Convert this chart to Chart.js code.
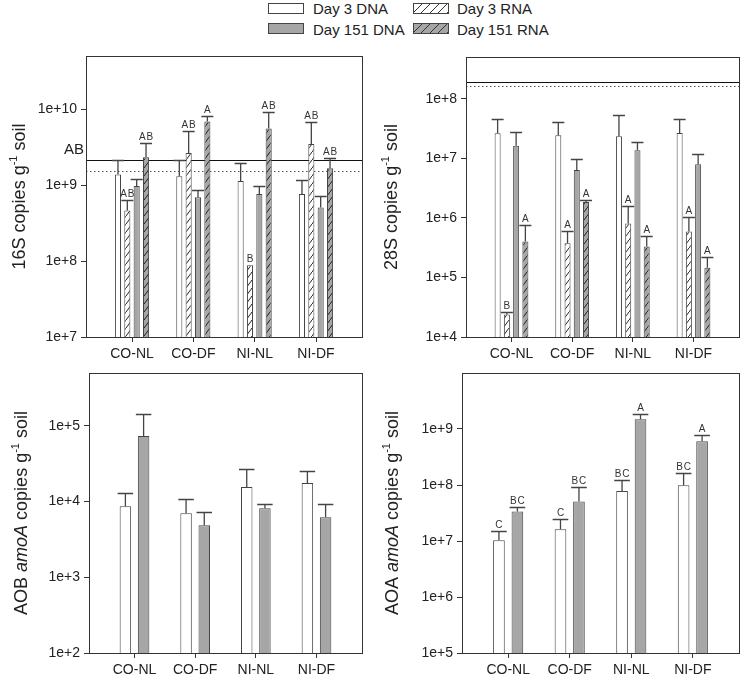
<!DOCTYPE html>
<html>
<head>
<meta charset="utf-8">
<script src="https://cdn.jsdelivr.net/npm/chart.js@4"></script>
<style>
  body { margin: 0; background: #fff; font-family: "Liberation Sans", Arial, sans-serif; }
  #wrap { position: relative; width: 742px; height: 682px; overflow: hidden; }
  canvas { position: absolute; }
  .sw { position: absolute; width: 34px; height: 9px; border: 1px solid #444; }
  .lt { position: absolute; font-size: 15px; color: #222; line-height: 15px; white-space: nowrap; }
</style>
</head>
<body>
<div id="wrap">
  <div class="sw" style="left:268px;top:3px;background:#fff"></div>
  <div class="lt" style="left:313px;top:1px">Day 3 DNA</div>
  <div class="sw" style="left:413px;top:3px;background:repeating-linear-gradient(135deg,#fff 0 5px,#333 5px 6px)"></div>
  <div class="lt" style="left:457px;top:1px">Day 3 RNA</div>
  <div class="sw" style="left:268px;top:23px;background:#a6a6a6"></div>
  <div class="lt" style="left:313px;top:22px">Day 151 DNA</div>
  <div class="sw" style="left:413px;top:23px;background:repeating-linear-gradient(135deg,#a6a6a6 0 5px,#333 5px 6px)"></div>
  <div class="lt" style="left:457px;top:22px">Day 151 RNA</div>

  <canvas id="c16" width="371" height="332" style="left:0;top:40px"></canvas>
  <canvas id="c28" width="371" height="332" style="left:371px;top:40px"></canvas>
  <canvas id="cAob" width="371" height="322" style="left:0;top:360px"></canvas>
  <canvas id="cAoa" width="371" height="322" style="left:371px;top:360px"></canvas>
</div>
<script>
const groups = ['CO-NL', 'CO-DF', 'NI-NL', 'NI-DF'];

// 16S (bar value, upper error value, letters)
const s16Day3Dna = [1.38e9, 1.31e9, 1.13e9, 7.6e8];
const s16Day3DnaHi = [2.15e9, 2.15e9, 1.96e9, 1.15e9];
const s16Day3Rna = [4.64e8, 2.64e9, 8.77e7, 3.46e9];
const s16Day3RnaHi = [6.3e8, 5.08e9, null, 6.69e9];
const s16Day3RnaSig = ['AB', 'AB', 'B', 'AB'];
const s16Day151Dna = [9.7e8, 6.9e8, 7.6e8, 5.08e8];
const s16Day151DnaHi = [1.2e9, 8.67e8, 9.8e8, 7.23e8];
const s16Day151Rna = [2.33e9, 6.89e9, 5.57e9, 1.67e9];
const s16Day151RnaHi = [3.57e9, 8.0e9, 9.14e9, 2.24e9];
const s16Day151RnaSig = ['AB', 'A', 'AB', 'AB'];
const s16RefSolid = 2.11e9;
const s16RefDotted = 1.54e9;
const s16RefSig = 'AB';
const s16Ticks = [1e7, 1e8, 1e9, 1e10];

// 28S
const s28Day3Dna = [2.62e7, 2.43e7, 2.33e7, 2.65e7];
const s28Day3DnaHi = [4.56e7, 4.1e7, 5.38e7, 4.61e7];
const s28Day3Rna = [2.38e4, 3.76e5, 8.05e5, 5.9e5];
const s28Day3RnaHi = [2.63e4, 5.97e5, 1.59e6, 1.04e6];
const s28Day3RnaSig = ['B', 'A', 'A', 'A'];
const s28Day151Dna = [1.62e7, 6.34e6, 1.36e7, 7.89e6];
const s28Day151DnaHi = [2.72e7, 9.7e6, 1.85e7, 1.16e7];
const s28Day151Rna = [4.0e5, 1.84e6, 3.3e5, 1.45e5];
const s28Day151RnaHi = [7.54e5, 1.96e6, 4.98e5, 2.16e5];
const s28Day151RnaSig = ['A', 'A', 'A', 'A'];
const s28RefSolid = 1.93e8;
const s28RefDotted = 1.63e8;
const s28Ticks = [1e4, 1e5, 1e6, 1e7, 1e8];

// AOB amoA
const aobDay3Dna = [8.67e3, 7.0e3, 1.56e4, 1.76e4];
const aobDay3DnaHi = [1.29e4, 1.07e4, 2.67e4, 2.56e4];
const aobDay151Dna = [7.36e4, 4.86e3, 8.15e3, 6.2e3];
const aobDay151DnaHi = [1.42e5, 7.36e3, 9.2e3, 9.3e3];
const aobTicks = [1e2, 1e3, 1e4, 1e5];

// AOA amoA
const aoaDay3Dna = [1.03e7, 1.62e7, 7.81e7, 9.9e7];
const aoaDay3DnaHi = [1.49e7, 2.47e7, 1.25e8, 1.62e8];
const aoaDay3DnaSig = ['C', 'C', 'BC', 'BC'];
const aoaDay151Dna = [3.35e7, 5.06e7, 1.49e9, 6.03e8];
const aoaDay151DnaHi = [4.05e7, 9.36e7, 1.88e9, 7.8e8];
const aoaDay151DnaSig = ['BC', 'BC', 'A', 'A'];
const aoaTicks = [1e5, 1e6, 1e7, 1e8, 1e9];

const FONT = '"Liberation Sans", Arial, sans-serif';
const GRAY = '#a6a6a6';
const EDGE = '#444';

function hatch(bg) {
  const c = document.createElement('canvas');
  c.width = 6; c.height = 8;
  const g = c.getContext('2d');
  g.fillStyle = bg;
  g.fillRect(0, 0, 6, 8);
  g.strokeStyle = '#222';
  g.lineWidth = 1;
  g.beginPath();
  g.moveTo(-1, 8 + 8 / 6);
  g.lineTo(7, -8 / 6);
  g.stroke();
  return g.createPattern(c, 'repeat');
}

function bar(label, data, fill, hi, sig) {
  return { label, data, backgroundColor: fill, borderColor: EDGE, borderWidth: 1, errHi: hi, sig: sig || [] };
}

// error bars (upper only) + letters above them
const errPlugin = {
  id: 'err',
  afterDatasetsDraw(chart) {
    const ctx = chart.ctx;
    const y = chart.scales.y;
    ctx.save();
    chart.data.datasets.forEach((ds, di) => {
      const meta = chart.getDatasetMeta(di);
      meta.data.forEach((el, i) => {
        let top = el.y;
        const hi = ds.errHi ? ds.errHi[i] : null;
        if (hi != null) {
          const py = Math.round(y.getPixelForValue(hi)) + 0.5;
          const cap = Math.max(el.width / 2 + 2, 6);
          ctx.strokeStyle = '#444';
          ctx.lineWidth = 1.3;
          ctx.beginPath();
          ctx.moveTo(el.x, el.y);
          ctx.lineTo(el.x, py);
          ctx.moveTo(el.x - cap, py);
          ctx.lineTo(el.x + cap, py);
          ctx.stroke();
          top = py;
        }
        const s = ds.sig[i];
        if (s) {
          ctx.fillStyle = '#333';
          ctx.font = '10px ' + FONT;
          ctx.textAlign = 'center';
          ctx.textBaseline = 'bottom';
          ctx.fillText(s.split('').join(String.fromCharCode(8202)), el.x, top - 1);
        }
      });
    });
    ctx.restore();
  }
};

// frame + reference lines
const framePlugin = {
  id: 'frame',
  beforeDatasetsDraw(chart, args, opts) {
    const { ctx, chartArea: a } = chart;
    const y = chart.scales.y;
    ctx.save();
    if (opts.solid) {
      const py = Math.round(y.getPixelForValue(opts.solid)) + 0.5;
      ctx.strokeStyle = '#111';
      ctx.lineWidth = 1;
      ctx.beginPath(); ctx.moveTo(a.left, py); ctx.lineTo(a.right, py); ctx.stroke();
      if (opts.sig) {
        ctx.fillStyle = '#222';
        ctx.font = '15px ' + FONT;
        ctx.textAlign = 'right';
        ctx.textBaseline = 'alphabetic';
        ctx.fillText(opts.sig, a.left - 2, py - 7);
      }
    }
    if (opts.dotted) {
      const py = Math.round(y.getPixelForValue(opts.dotted)) + 0.5;
      ctx.strokeStyle = '#555';
      ctx.setLineDash([1.5, 2.5]);
      ctx.beginPath(); ctx.moveTo(a.left, py); ctx.lineTo(a.right, py); ctx.stroke();
    }
    ctx.restore();
  },
  afterDraw(chart) {
    const { ctx, chartArea: a } = chart;
    ctx.save();
    ctx.strokeStyle = '#333';
    ctx.lineWidth = 1;
    ctx.strokeRect(Math.round(a.left) + 0.5, Math.round(a.top) + 0.5, Math.round(a.right - a.left), Math.round(a.bottom - a.top));
    ctx.restore();
  }
};

// rotated y title with italic / superscript parts
const titlePlugin = {
  id: 'ytitle',
  afterDraw(chart, args, opts) {
    if (!opts.parts) return;
    const ctx = chart.ctx;
    const size = 18;
    const fontFor = p => (p.italic ? 'italic ' : '') + (p.sup ? 11 : size) + 'px ' + FONT;
    ctx.save();
    let total = 0;
    opts.parts.forEach(p => { ctx.font = fontFor(p); total += ctx.measureText(p.t).width; });
    const cy = (chart.chartArea.top + chart.chartArea.bottom) / 2;
    ctx.translate(opts.x, cy);
    ctx.rotate(-Math.PI / 2);
    ctx.fillStyle = '#222';
    ctx.textBaseline = 'alphabetic';
    ctx.textAlign = 'left';
    let x = -total / 2;
    opts.parts.forEach(p => {
      ctx.font = fontFor(p);
      ctx.fillText(p.t, x, p.sup ? size * 0.35 - 8 : size * 0.35);
      x += ctx.measureText(p.t).width;
    });
    ctx.restore();
  }
};

function makeChart(id, datasets, cfg) {
  return new Chart(document.getElementById(id), {
    type: 'bar',
    data: { labels: groups, datasets },
    options: {
      responsive: false,
      animation: false,
      devicePixelRatio: 1,
      categoryPercentage: cfg.cat,
      barPercentage: cfg.barPct,
      layout: { padding: { top: cfg.top, right: cfg.right, left: 0, bottom: 0 } },
      plugins: {
        legend: { display: false },
        tooltip: { enabled: false },
        frame: { solid: cfg.solid, dotted: cfg.dotted, sig: cfg.refSig },
        ytitle: { parts: cfg.title, x: cfg.titleX }
      },
      scales: {
        x: {
          type: 'category',
          offset: true,
          grid: { offset: false, drawOnChartArea: false, tickLength: 5, color: '#333' },
          border: { color: '#333' },
          ticks: { color: '#222', font: { family: FONT, size: 14 }, padding: 4, maxRotation: 0 },
          afterBuildTicks: s => { s._startValue = -0.75; s._valueRange = 4.5; },
          afterFit: s => { s.height = cfg.xh; }
        },
        y: {
          type: 'logarithmic',
          min: cfg.min,
          max: cfg.max,
          afterBuildTicks: s => { s.ticks = cfg.ticks.map(v => ({ value: v })); },
          grid: { drawOnChartArea: false, tickLength: 5, color: '#333' },
          border: { color: '#333' },
          ticks: {
            autoSkip: false,
            color: '#222',
            font: { family: FONT, size: 14 },
            padding: 4,
            callback: v => '1e+' + Math.round(Math.log10(v))
          },
          afterFit: s => { s.width = cfg.yw; }
        }
      }
    },
    plugins: [framePlugin, errPlugin, titlePlugin]
  });
}

const hatchWhite = hatch('#fff');
const hatchGray = hatch(GRAY);
const copiesTail = [{ t: ' copies g' }, { t: '-1', sup: true }, { t: ' soil' }];

makeChart('c16', [
  bar('Day 3 DNA', s16Day3Dna, '#fff', s16Day3DnaHi),
  bar('Day 3 RNA', s16Day3Rna, hatchWhite, s16Day3RnaHi, s16Day3RnaSig),
  bar('Day 151 DNA', s16Day151Dna, GRAY, s16Day151DnaHi),
  bar('Day 151 RNA', s16Day151Rna, hatchGray, s16Day151RnaHi, s16Day151RnaSig)
], { min: 1e7, max: 5e10, ticks: s16Ticks, yw: 86, xh: 35, top: 16, right: 9, cat: 0.61, barPct: 0.65,
     solid: s16RefSolid, dotted: s16RefDotted, refSig: s16RefSig,
     title: [{ t: '16S' }].concat(copiesTail), titleX: 19 });

makeChart('c28', [
  bar('Day 3 DNA', s28Day3Dna, '#fff', s28Day3DnaHi),
  bar('Day 3 RNA', s28Day3Rna, hatchWhite, s28Day3RnaHi, s28Day3RnaSig),
  bar('Day 151 DNA', s28Day151Dna, GRAY, s28Day151DnaHi),
  bar('Day 151 RNA', s28Day151Rna, hatchGray, s28Day151RnaHi, s28Day151RnaSig)
], { min: 1e4, max: 5e8, ticks: s28Ticks, yw: 95, xh: 35, top: 17, right: 3, cat: 0.61, barPct: 0.65,
     solid: s28RefSolid, dotted: s28RefDotted,
     title: [{ t: '28S' }].concat(copiesTail), titleX: 20 });

makeChart('cAob', [
  bar('Day 3 DNA', aobDay3Dna, '#fff', aobDay3DnaHi),
  bar('Day 151 DNA', aobDay151Dna, GRAY, aobDay151DnaHi)
], { min: 1e2, max: 5e5, ticks: aobTicks, yw: 89, xh: 29, top: 13, right: 9, cat: 0.6, barPct: 0.63,
     title: [{ t: 'AOB ' }, { t: 'amoA', italic: true }].concat(copiesTail), titleX: 21 });

makeChart('cAoa', [
  bar('Day 3 DNA', aoaDay3Dna, '#fff', aoaDay3DnaHi, aoaDay3DnaSig),
  bar('Day 151 DNA', aoaDay151Dna, GRAY, aoaDay151DnaHi, aoaDay151DnaSig)
], { min: 1e5, max: 1e10, ticks: aoaTicks, yw: 91, xh: 29, top: 13, right: 3, cat: 0.6, barPct: 0.63,
     title: [{ t: 'AOA ' }, { t: 'amoA', italic: true }].concat(copiesTail), titleX: 21 });
</script>
</body>
</html>
